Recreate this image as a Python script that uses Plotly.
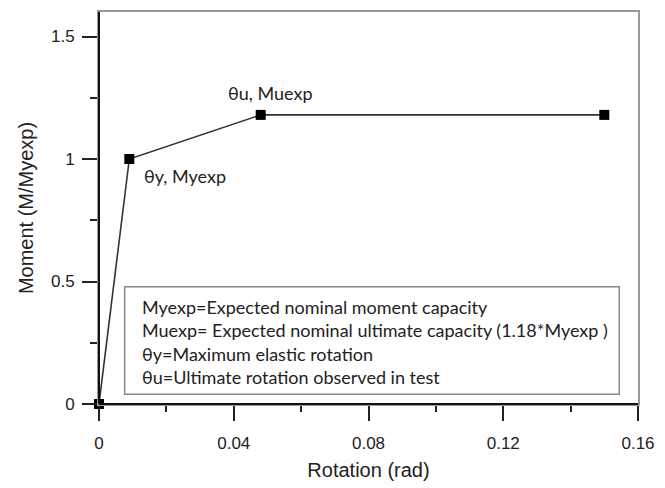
import plotly.graph_objects as go

# Data
rotation = [0.0, 0.009, 0.048, 0.15]
moment = [0.0, 1.0, 1.18, 1.18]
point_labels = ["", "θy, Myexp", "θu, Muexp", ""]
x_ticks = [0, 0.04, 0.08, 0.12, 0.16]
x_ticklabels = ["0", "0.04", "0.08", "0.12", "0.16"]
y_ticks = [0, 0.5, 1, 1.5]
y_ticklabels = ["0", "0.5", "1", "1.5"]
legend_lines = [
    "Myexp=Expected nominal moment capacity",
    "Muexp= Expected nominal ultimate capacity (1.18*Myexp )",
    "θy=Maximum elastic rotation",
    "θu=Ultimate rotation observed in test",
]

AX_FONT = "Liberation Sans, Arial, sans-serif"
TXT_FONT = "Lato, Open Sans, sans-serif"

fig = go.Figure()
fig.add_trace(go.Scatter(
    x=rotation, y=moment, mode="lines+markers",
    line=dict(color="#333333", width=1.6),
    marker=dict(symbol="square", size=10, color="black"),
    cliponaxis=False, showlegend=False,
))

# point annotations
fig.add_annotation(x=rotation[1], y=moment[1], text=point_labels[1],
                   showarrow=False, xanchor="left", yanchor="middle",
                   xshift=13, yshift=-17,
                   font=dict(family=TXT_FONT, size=18, color="#222"))
fig.add_annotation(x=rotation[2], y=moment[2], text=point_labels[2],
                   showarrow=False, xanchor="center", yanchor="middle",
                   xshift=10, yshift=22,
                   font=dict(family=TXT_FONT, size=18, color="#222"))

# legend/info box
fig.add_shape(type="rect", xref="paper", yref="paper",
              x0=26 / 546, x1=527 / 546, y0=10 / 398, y1=119 / 398,
              line=dict(color="#888888", width=1.5), fillcolor="white", layer="above")
fig.add_annotation(xref="paper", yref="paper", x=42 / 546, y=112 / 398,
                   xanchor="left", yanchor="top", align="left", showarrow=False,
                   text="<br>".join(legend_lines),
                   font=dict(family=TXT_FONT, size=18, color="#222"))

fig.update_xaxes(
    range=[0, 0.16], tickvals=x_ticks, ticktext=x_ticklabels,
    ticks="outside", ticklen=15, tickwidth=2, tickcolor="#222",
    minor=dict(ticks="outside", dtick=0.02, ticklen=6, tickwidth=2, tickcolor="#222"),
    showline=True, mirror=True, linecolor="#999999", linewidth=2,
    zeroline=False, showgrid=False, ticklabelstandoff=8,
    tickfont=dict(family=AX_FONT, size=17, color="#222"),
    title=dict(text="Rotation (rad)", standoff=11,
               font=dict(family=AX_FONT, size=20, color="#222")),
)
fig.update_yaxes(
    range=[0, 1.6], tickvals=y_ticks, ticktext=y_ticklabels,
    ticks="outside", ticklen=15, tickwidth=2, tickcolor="#222",
    minor=dict(ticks="outside", dtick=0.25, ticklen=7, tickwidth=2, tickcolor="#222"),
    showline=True, mirror=True, linecolor="#999999", linewidth=2,
    zeroline=False, showgrid=False, ticklabelstandoff=4,
    tickfont=dict(family=AX_FONT, size=17, color="#222"),
    title=dict(text="Moment (M/Myexp)", standoff=12,
               font=dict(family=AX_FONT, size=20, color="#222")),
)
# darker left and bottom axis lines
fig.add_shape(type="line", xref="paper", yref="paper", x0=0, x1=0, y0=0, y1=1,
              line=dict(color="#111", width=2), layer="above")
fig.add_shape(type="line", xref="paper", yref="paper", x0=0, x1=1, y0=0, y1=0,
              line=dict(color="#111", width=2), layer="above")

fig.update_layout(
    width=665, height=488,
    margin=dict(l=99, r=20, t=10, b=80),
    plot_bgcolor="white", paper_bgcolor="white",
)
fig.write_html("out.html")
